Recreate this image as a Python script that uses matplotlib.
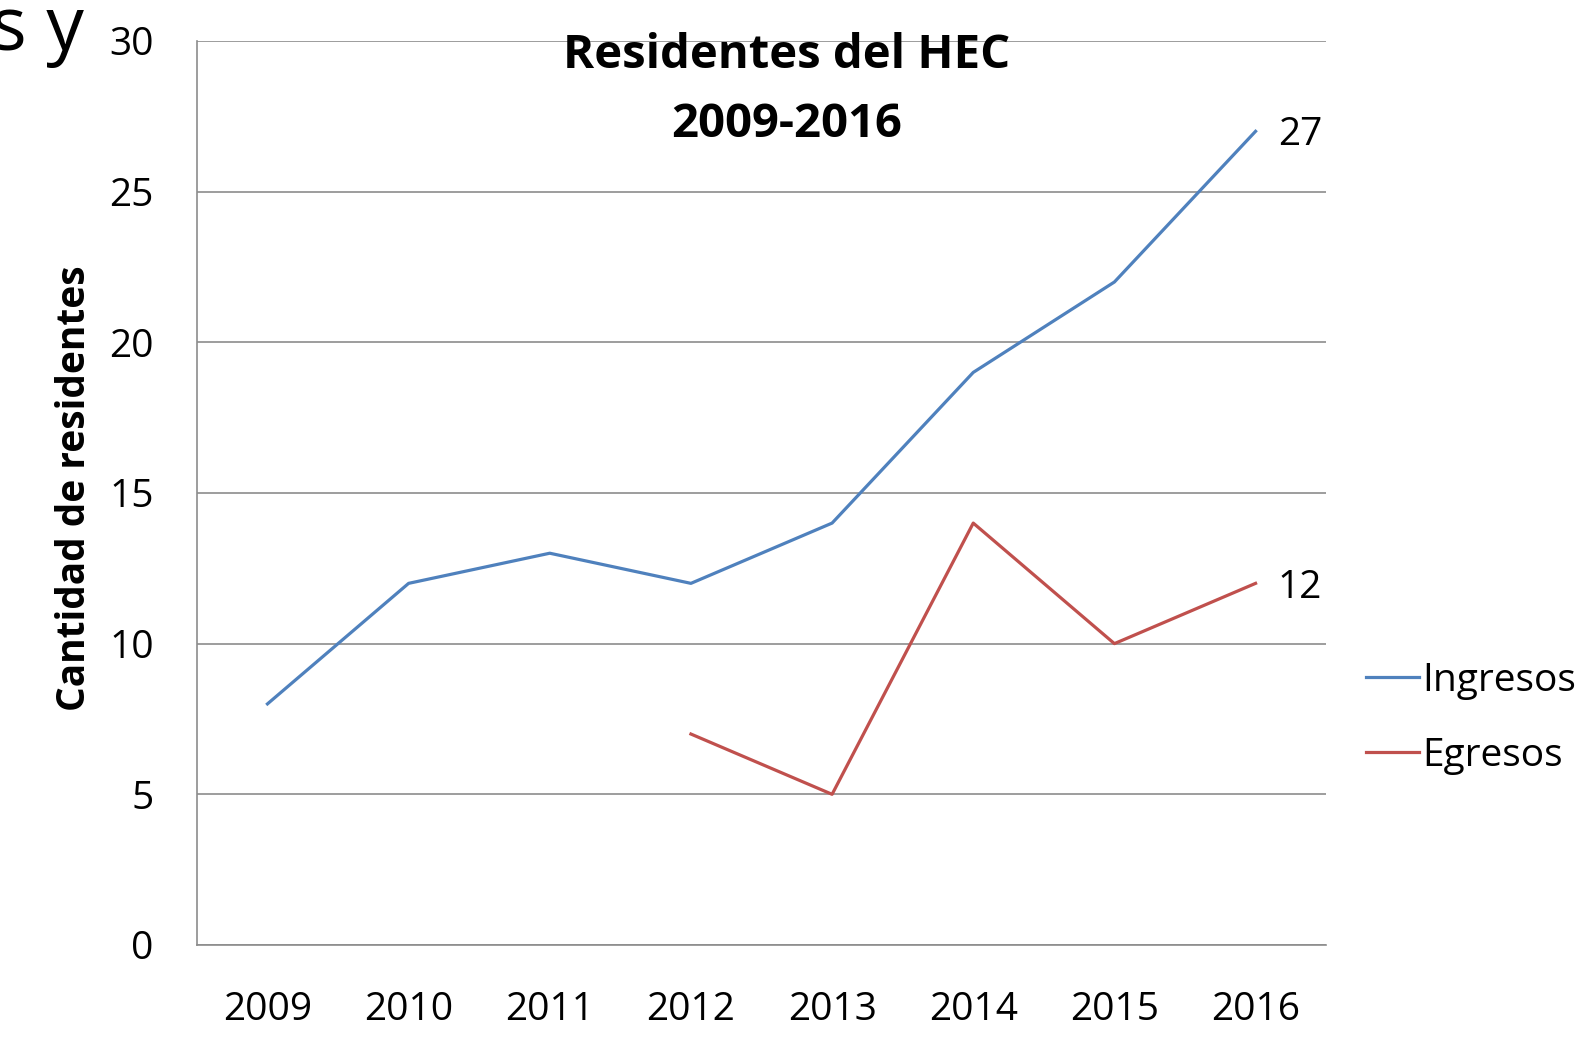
import numpy as np
import matplotlib.pyplot as plt

plt.rcParams['font.family'] = ['Open Sans', 'DejaVu Sans']

years = ['2009', '2010', '2011', '2012', '2013', '2014', '2015', '2016']
ingresos = [8, 12, 13, 12, 14, 19, 22, 27]
egresos = [np.nan, np.nan, np.nan, 7, 5, 14, 10, 12]

fig = plt.figure(figsize=(15.75, 10.38), dpi=100)
ax = fig.add_axes([0.125, 0.0896, 0.717, 0.871])

x = np.arange(len(years))
ax.plot(x, ingresos, color='#4F81BD', lw=2.3, label='Ingresos', zorder=3)
ax.plot(x, egresos, color='#C0504D', lw=2.3, label='Egresos', zorder=3)

# etiqueta del ultimo valor
for serie in (ingresos, egresos):
    ax.annotate(str(serie[-1]), (x[-1], serie[-1]), xytext=(16, -3), textcoords='offset points',
                fontsize=28, va='center', ha='left')

ax.set_xlim(-0.5, 7.5)
ax.set_ylim(0, 30)
ax.set_yticks(range(0, 31, 5))
ax.set_xticks(x)
ax.set_xticklabels(years)
ax.tick_params(axis='both', length=0, labelsize=28, colors='black')
ax.tick_params(axis='x', pad=33)
ax.tick_params(axis='y', pad=31)
ax.yaxis.grid(True, color='#8c8c8c', lw=1.2)
ax.set_axisbelow(True)
for s in ['top', 'right']:
    ax.spines[s].set_visible(False)
ax.spines['left'].set_color('#8c8c8c')
ax.spines['bottom'].set_color('#8c8c8c')
ax.spines['left'].set_linewidth(1.2)
ax.spines['bottom'].set_linewidth(1.2)

ax.set_ylabel('Cantidad de residentes', fontsize=28, fontweight='bold')
ax.yaxis.set_label_coords(-0.091, 0.505)
ax.text(0.522, 0.984, 'Residentes del HEC', transform=ax.transAxes,
        ha='center', va='center', fontsize=34, fontweight='bold')
ax.text(0.522, 0.908, '2009-2016', transform=ax.transAxes,
        ha='center', va='center', fontsize=34, fontweight='bold')

ax.legend(loc='center left', bbox_to_anchor=(0.845, 0.308), bbox_transform=fig.transFigure,
          frameon=False, fontsize=28, handlelength=1.36, handletextpad=0.08, labelspacing=0.95)

# trozo del titulo de la diapositiva
fig.text(-0.006, 0.952, 's y', fontsize=54, va='baseline', ha='left')

fig.savefig('out.png', dpi=100)
